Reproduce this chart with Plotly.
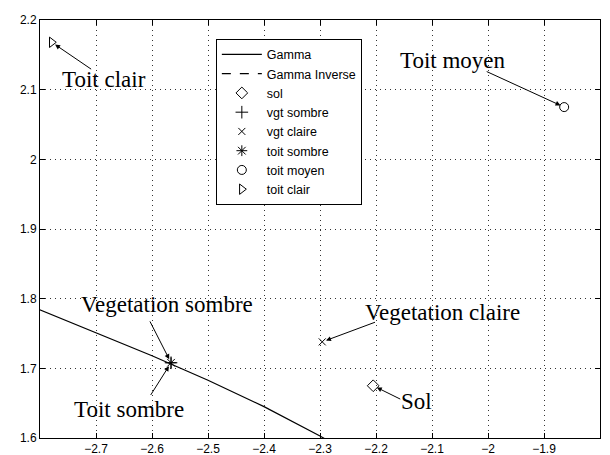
import plotly.graph_objects as go

# Gamma curve samples
gamma_x = [-2.9, -2.8, -2.7, -2.6, -2.5, -2.4, -2.3, -2.2]
gamma_y = [1.817, 1.784, 1.751, 1.718, 1.683, 1.645, 1.603, 1.555]

# Class centroids
sol = (-2.205, 1.675)
vgt_sombre = (-2.566, 1.708)
vgt_claire = (-2.296, 1.738)
toit_sombre = (-2.566, 1.708)
toit_moyen = (-1.864, 2.075)
toit_clair = (-2.779, 2.168)

x_ticks = [-2.7, -2.6, -2.5, -2.4, -2.3, -2.2, -2.1, -2.0, -1.9, -1.8]
x_labels = ["\u22122.7", "\u22122.6", "\u22122.5", "\u22122.4", "\u22122.3",
            "\u22122.2", "\u22122.1", "\u22122", "\u22121.9", "\u22121.8"]
y_ticks = [1.6, 1.7, 1.8, 1.9, 2.0, 2.1, 2.2]
y_labels = ["1.6", "1.7", "1.8", "1.9", "2", "2.1", "2.2"]

fig = go.Figure()
fig.add_trace(go.Scatter(x=gamma_x, y=gamma_y, mode="lines", name="Gamma",
                         line=dict(color="black", width=1.2)))
fig.add_trace(go.Scatter(x=[None], y=[None], mode="lines", name="Gamma Inverse",
                         line=dict(color="black", width=1.2, dash="dash")))

markers = [
    ("sol", sol, "diamond-open", 9),
    ("vgt sombre", vgt_sombre, "cross-thin-open", 9),
    ("vgt claire", vgt_claire, "x-thin-open", 7),
    ("toit sombre", toit_sombre, "asterisk-open", 9),
    ("toit moyen", toit_moyen, "circle-open", 9),
    ("toit clair", toit_clair, "triangle-right-open", 9),
]
for name, (px, py), sym, sz in markers:
    fig.add_trace(go.Scatter(x=[px], y=[py], mode="markers", name=name,
                             marker=dict(symbol=sym, size=sz, color="black",
                                         line=dict(color="black", width=1))))

# Labels and their arrows: (text, text_x, text_y, tail_x, tail_y, target)
labels = [
    ("Toit clair", -2.686, 2.115, -2.706, 2.128, toit_clair),
    ("Toit moyen", -2.063, 2.142, -2.005, 2.127, toit_moyen),
    ("Vegetation sombre", -2.574, 1.791, -2.605, 1.7695, vgt_sombre),
    ("Toit sombre", -2.641, 1.6405, -2.604, 1.6596, toit_sombre),
    ("Vegetation claire", -2.082, 1.7795, -2.199, 1.767, vgt_claire),
    ("Sol", -2.127, 1.652, -2.154, 1.6548, sol),
]
for text, tx, ty, ax, ay, (mx, my) in labels:
    fig.add_annotation(x=tx, y=ty, text=text, showarrow=False,
                       font=dict(family="Liberation Serif", size=23, color="black"),
                       xanchor="center", yanchor="middle")
    fig.add_annotation(x=mx, y=my, ax=ax, ay=ay, axref="x", ayref="y",
                       text="", showarrow=True, arrowhead=2, arrowsize=1,
                       arrowwidth=1, arrowcolor="black", standoff=4)

axis_common = dict(showline=True, linecolor="black", linewidth=1, mirror="ticks",
                   ticks="inside", ticklen=5, tickcolor="black",
                   showgrid=True, gridcolor="#333333", gridwidth=1,
                   griddash="1px,4px",
                   zeroline=False, tickfont=dict(family="Liberation Sans", size=12,
                                                 color="black"))

fig.update_xaxes(range=[-2.8, -1.8], tickvals=x_ticks, ticktext=x_labels,
                 automargin=False, **axis_common)
fig.update_yaxes(range=[1.6, 2.2], tickvals=y_ticks, ticktext=y_labels,
                 automargin=False, **axis_common)

fig.update_layout(
    width=610, height=455,
    margin=dict(l=40, r=10, t=20, b=17),
    paper_bgcolor="white", plot_bgcolor="white",
    showlegend=True,
    legend=dict(x=0.314, y=0.955, xanchor="left", yanchor="top",
                bgcolor="white", bordercolor="black", borderwidth=1,
                font=dict(family="Liberation Sans", size=12.5, color="black"),
                tracegroupgap=0, itemwidth=40),
)

fig.write_html("out.html")
